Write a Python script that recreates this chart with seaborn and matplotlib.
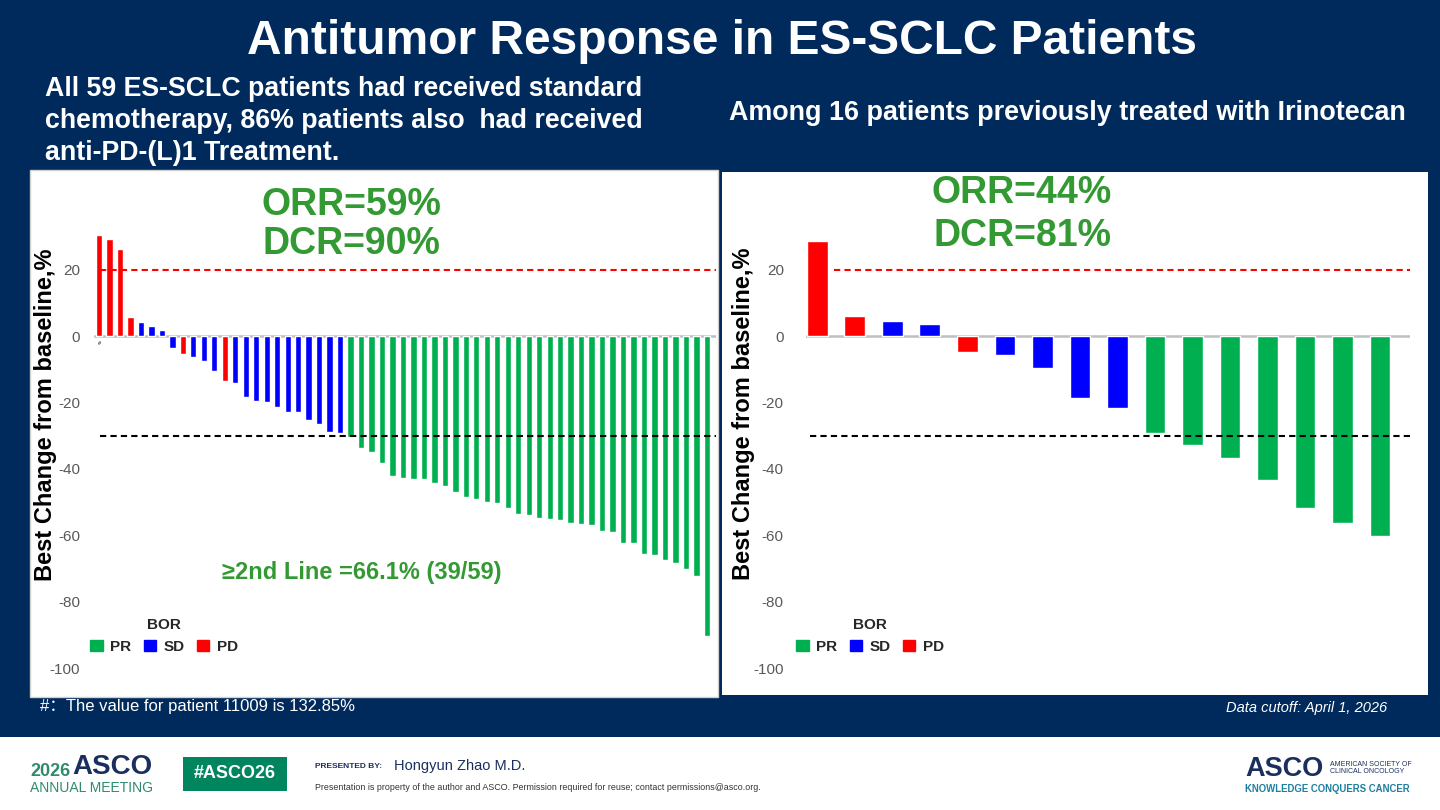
import matplotlib
matplotlib.use("Agg")
import matplotlib.pyplot as plt
import matplotlib.patches as mpatches
import seaborn as sns
import pandas as pd

# ---------------------------------------------------------------
# data (best change from baseline, %)
left_vals = [30.3, 29.1, 26.2, 5.6, 4.1, 2.9, 1.7, -3.6, -5.5, -6.2,
             -7.5, -10.4, -13.6, -14.2, -18.4, -19.5, -19.8, -21.3, -23.0, -23.0,
             -25.2, -26.6, -28.8, -29.1,
             -30.5, -33.8, -34.9, -38.1, -42.2, -42.7, -43.2, -43.2, -44.4, -45.1,
             -46.9, -48.5, -49.2, -50.0, -50.3, -51.9, -53.5, -53.8, -54.8, -55.0,
             -55.5, -56.4, -56.7, -56.9, -58.6, -59.1, -62.2, -62.2, -65.5, -65.8,
             -67.4, -68.4, -70.3, -72.3, -90.3]
left_bor = (["PD", "PD", "PD", "PD", "SD", "SD", "SD", "SD", "PD", "SD",
             "SD", "SD", "PD", "SD", "SD", "SD", "SD", "SD", "SD", "SD",
             "SD", "SD", "SD", "SD"] + ["PR"] * 35)

right_vals = [28.6, 5.9, 4.5, 3.5, -4.8, -5.8, -9.6, -18.6, -21.6,
              -29.1, -32.7, -36.7, -43.4, -51.9, -56.4, -60.2]
right_bor = ["PD", "PD", "SD", "SD", "PD", "SD", "SD", "SD", "SD",
             "PR", "PR", "PR", "PR", "PR", "PR", "PR"]

bor_levels = ["PR", "SD", "PD"]
bor_colors = {"PR": "#00b050", "SD": "#0000ff", "PD": "#ff0000"}
y_ticks = [-100, -80, -60, -40, -20, 0, 20]
# ---------------------------------------------------------------

NAVY = "#002a5c"
GREEN_TXT = "#339933"
W, H = 1440, 810

sns.set_theme(style="white")
plt.rcParams["font.family"] = ["Liberation Sans", "DejaVu Sans"]

fig = plt.figure(figsize=(14.4, 8.1), dpi=100)
fig.patch.set_facecolor(NAVY)


def px(x, y):
    return x / W, 1 - y / H


def box(x0, y0, x1, y1, color, z=-5, ec="none"):
    fig.patches.append(mpatches.Rectangle(px(x0, y1), (x1 - x0) / W, (y1 - y0) / H,
                                          transform=fig.transFigure, facecolor=color,
                                          edgecolor=ec, zorder=z))


# white panels and footer band
box(0, 737, W, H, "white")
box(30, 170, 718, 697, "white", ec="#d0d0d0")
box(722, 172, 1428, 695, "white")


def waterfall(ax, vals, bor, width, xlim, red_start, black_start):
    df = pd.DataFrame({"patient": range(len(vals)), "change": vals, "BOR": bor})
    sns.barplot(data=df, x="patient", y="change", hue="BOR", hue_order=bor_levels,
                palette=bor_colors, dodge=False, width=width, legend=False,
                saturation=1, ax=ax)
    ax.set_xlim(*xlim)
    ax.set_ylim(-106.6, 47)
    ax.axhline(0, color="#bfbfbf", lw=1.8, zorder=0)
    ax.axhline(20, xmin=red_start, color="#ff0000", ls=(0, (3, 2)), lw=1.5)
    ax.axhline(-30, xmin=black_start, color="black", ls=(0, (3, 2)), lw=1.5)
    ax.set_facecolor("none")
    for s in ax.spines.values():
        s.set_visible(False)
    ax.set_xticks([])
    ax.set_xlabel("")
    ax.set_yticks(y_ticks)
    ax.set_yticklabels([str(t) for t in y_ticks], color="#595959", fontsize=11)
    ax.tick_params(axis="y", length=0)
    ax.set_ylabel("Best Change from baseline,%", fontsize=17, fontweight="bold",
                  color="black")


# left chart
ax1 = fig.add_axes([94 / W, 1 - 690 / H, 622 / W, 510 / H])
waterfall(ax1, left_vals, left_bor, 0.6, (-0.48, 58.87), 0.01, 0.01)
ax1.tick_params(axis="y", pad=10)
ax1.yaxis.set_label_coords(-0.0595, 0.539)
ax1.text(0, -1.5, "#", fontsize=4, ha="center", va="top", color="black")

# right chart
ax2 = fig.add_axes([806 / W, 1 - 690 / H, 604 / W, 510 / H])
waterfall(ax2, right_vals, right_bor, 0.55, (-0.3, 15.8), 0.046, 0.007)
ax2.tick_params(axis="y", pad=16)
ax2.yaxis.set_label_coords(-0.0844, 0.541)

# legends
for ax, cx in ((ax1, 164), (ax2, 870)):
    handles = [mpatches.Patch(color=bor_colors[b], label=b) for b in bor_levels]
    ax.legend(handles=handles, title="BOR", ncol=3, frameon=False,
              loc="center", bbox_to_anchor=px(cx, 636),
              bbox_transform=fig.transFigure, handlelength=0.8,
              handleheight=0.8, handletextpad=0.5, columnspacing=0.8,
              prop={"weight": "bold", "size": 11},
              title_fontproperties={"weight": "bold", "size": 11})

# headings
fig.text(*px(722, 41), "Antitumor Response in ES-SCLC Patients", color="white",
         fontsize=34.5, fontweight="bold", ha="center", va="center")
fig.text(*px(45, 121), "All 59 ES-SCLC patients had received standard\n"
         "chemotherapy, 86% patients also  had received\nanti-PD-(L)1 Treatment.",
         color="white", fontsize=19.3, fontweight="bold", ha="left", va="center",
         linespacing=1.3)
fig.text(*px(1067, 113), "Among 16 patients previously treated with Irinotecan",
         color="white", fontsize=19.4, fontweight="bold", ha="center", va="center")

for label, x, y in (("ORR=59%", 351, 205), ("DCR=90%", 351, 244),
                    ("ORR=44%", 1022, 193), ("DCR=81%", 1022, 236)):
    fig.text(*px(x, y), label, color=GREEN_TXT, fontsize=27, fontweight="bold",
             ha="center", va="center")
fig.text(*px(222, 573), "\u22652nd Line =66.1% (39/59)", color=GREEN_TXT, fontsize=17,
         fontweight="bold", ha="left", va="center")

fig.text(*px(40, 706), "#\uff1aThe value for patient 11009 is 132.85%", color="white",
         fontsize=12, ha="left", va="center",
         family=["Liberation Sans", "Noto Sans CJK SC"])
fig.text(*px(1387, 708), "Data cutoff: April 1, 2026", color="white", fontsize=10.5,
         style="italic", ha="right", va="center")

# footer
fig.text(*px(30, 772), "2026", color="#2e8b6e", fontsize=13, fontweight="bold",
         ha="left", va="center")
fig.text(*px(72, 767), "ASCO", color="#1b2f5e", fontsize=20, fontweight="bold",
         ha="left", va="center")
fig.text(*px(30, 788), "ANNUAL MEETING", color="#2e8b6e", fontsize=10,
         ha="left", va="center")
box(183, 757, 287, 791, "#00855f", z=1)
fig.text(*px(235, 774), "#ASCO26", color="white", fontsize=13, fontweight="bold",
         ha="center", va="center")
fig.text(*px(315, 767), "PRESENTED BY:", color="#1b2f5e", fontsize=6,
         fontweight="bold", ha="left", va="center")
fig.text(*px(394, 766), "Hongyun Zhao M.D.", color="#1b2f5e", fontsize=10.5,
         ha="left", va="center")
fig.text(*px(315, 787), "Presentation is property of the author and ASCO. "
         "Permission required for reuse; contact permissions@asco.org.",
         color="#333333", fontsize=6.4, ha="left", va="center")
fig.text(*px(1245, 769), "ASCO", color="#1b2f5e", fontsize=19.5, fontweight="bold",
         ha="left", va="center")
fig.text(*px(1330, 768), "AMERICAN SOCIETY OF\nCLINICAL ONCOLOGY", color="#1b2f5e",
         fontsize=5, ha="left", va="center", linespacing=1.1)
fig.text(*px(1245, 789), "KNOWLEDGE CONQUERS CANCER", color="#1e7f9e", fontsize=6.9,
         fontweight="bold", ha="left", va="center")

fig.savefig("out.png", dpi=100, facecolor=fig.get_facecolor())
